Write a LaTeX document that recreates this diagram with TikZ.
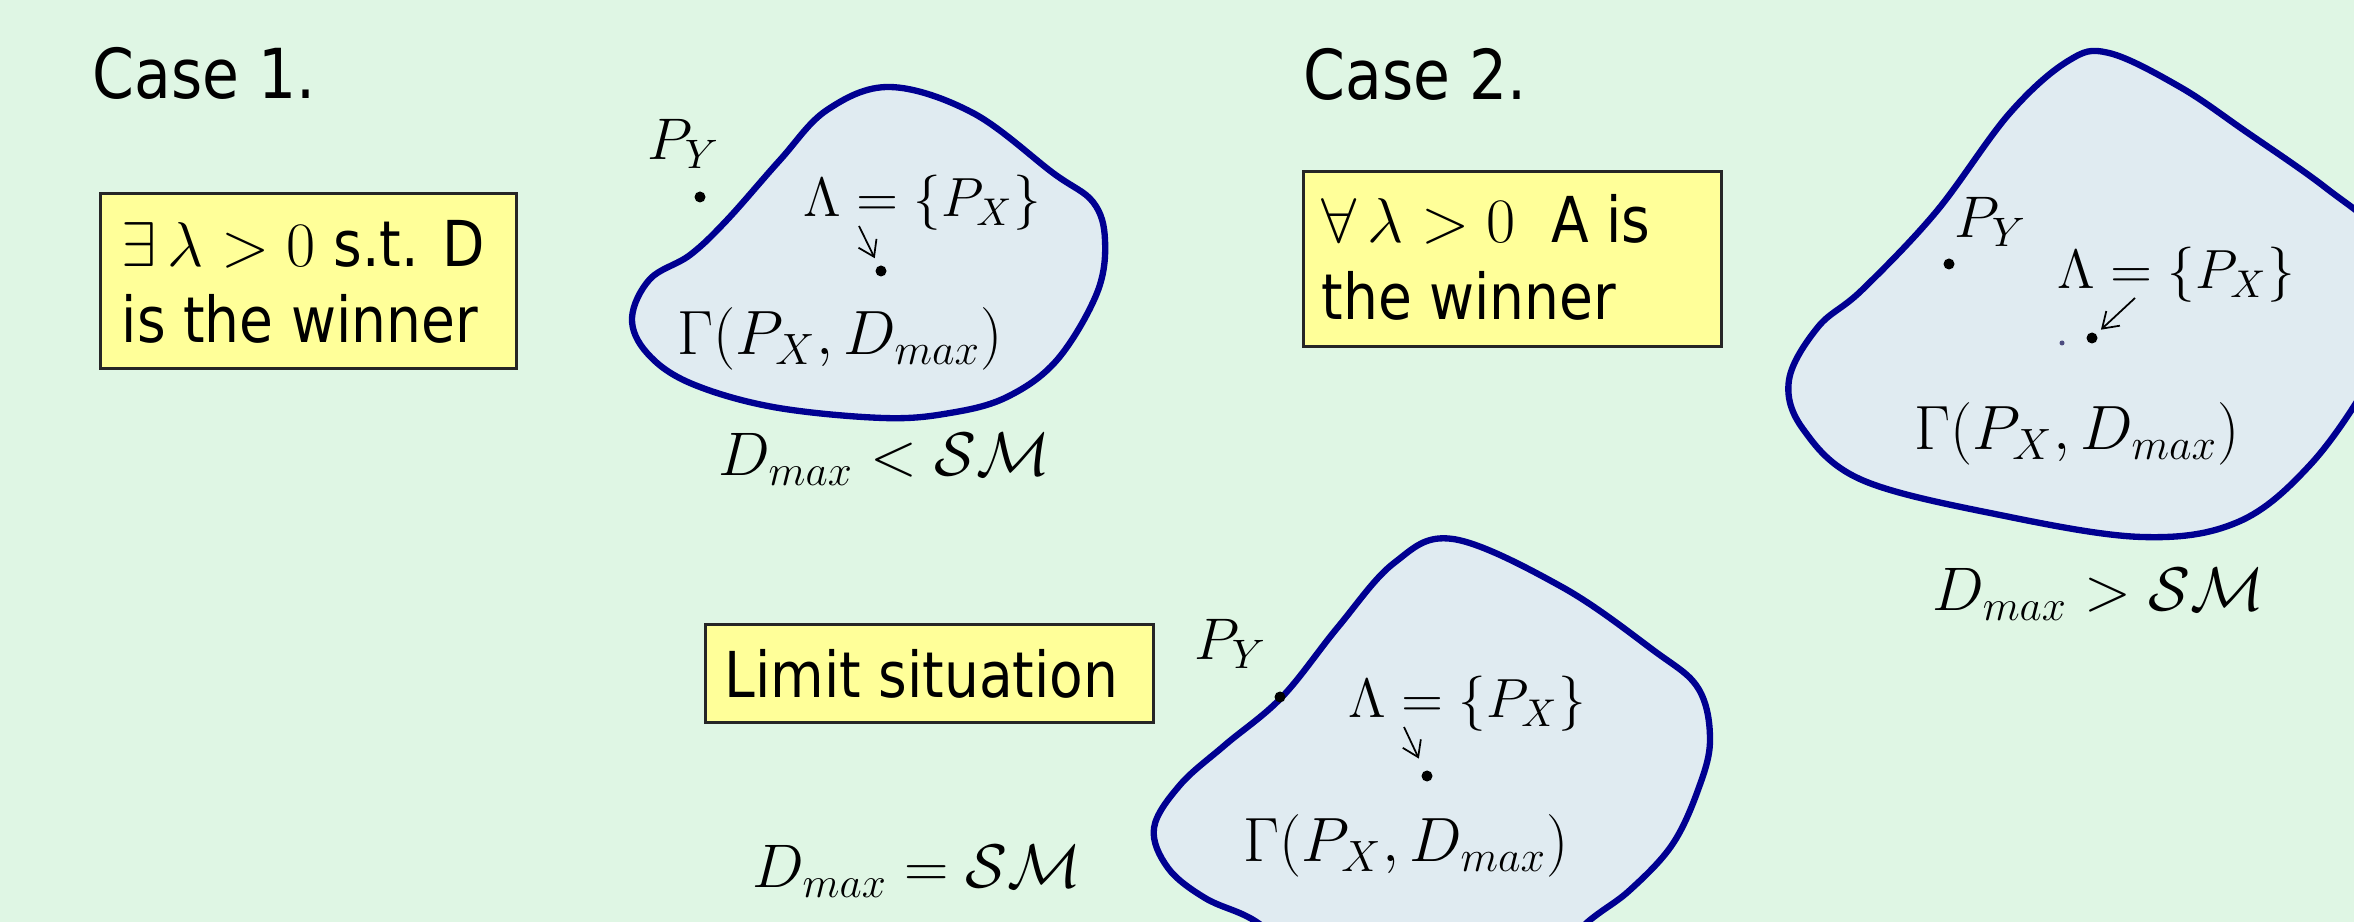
\RequirePackage{fix-cm}
\documentclass[tikz,border=0pt]{standalone}
\usepackage[no-math]{fontspec}
\setmainfont{DejaVu Sans}[FakeStretch=0.87]
\usetikzlibrary{arrows.meta}
\definecolor{bg}{RGB}{223,246,228}
\definecolor{blobfill}{RGB}{224,235,241}
\definecolor{blobline}{RGB}{0,0,145}
\definecolor{boxfill}{RGB}{255,255,153}
\begin{document}
\begin{tikzpicture}[x=0.01cm,y=-0.01cm,
  ttl/.style={anchor=base west, inner sep=0, font=\fontsize{19.6}{23}\selectfont},
  btxt/.style={anchor=base west, inner sep=0, font=\fontsize{18}{22}\selectfont},
  ybox/.style={draw=black!85, fill=boxfill, line width=0.8pt, anchor=north west, inner sep=0},
  mth/.style={anchor=base west, inner sep=0, font=\fontsize{16.7}{20}\selectfont},
  lmth/.style={anchor=base west, inner sep=0, font=\fontsize{15.7}{19}\selectfont},
  gmth/.style={anchor=base west, inner sep=0, font=\fontsize{17.8}{21}\selectfont},
  dmth/.style={anchor=base west, inner sep=0, font=\fontsize{17.5}{21}\selectfont},
  blob/.style={draw=blobline, fill=blobfill, line width=1.8pt},
  dot/.style={circle, fill=black, inner sep=0, minimum size=0.11cm},
  gdot/.style={circle, fill=black!50!blue!40!gray, inner sep=0, minimum size=0.05cm},
  arr/.style={-{Straight Barb[length=0.15cm,width=0.2cm]}, line width=0.5pt}]
\fill[bg] (0,0) rectangle (2354,922);
\useasboundingbox (0,0) rectangle (2354,922);
\begin{scope}
\clip (0,0) rectangle (2354,922);
% blob 1
\draw[blob] plot[smooth cycle, tension=0.6] coordinates {
 (890,87) (973,113) (1053,173) (1093,202) (1105,240) (1097,293) (1057,360) (1007,397)
 (950,413) (883,418) (773,407) (690,383) (647,353) (632,318) (650,279) (690,255)
 (727,220) (780,160) (827,110)};
% blob 2
\draw[blob] plot[smooth cycle, tension=0.6] coordinates {
 (2109,53) (2180,87) (2245,131) (2326,188) (2385,240) (2400,310) (2370,380)
 (2310,465) (2238,522) (2142,537) (2000,515) (1862,480) (1803,429) (1789,380)
 (1818,327) (1862,290) (1936,212) (2009,114) (2068,61)};
% blob 3
\draw[blob] plot[smooth cycle, tension=0.6] coordinates {
 (1453,539) (1562,587) (1653,650) (1698,688) (1710,740) (1698,790) (1672,845)
 (1630,890) (1590,920) (1530,970) (1400,985) (1300,950) (1250,918) (1205,898)
 (1168,868) (1154,828) (1180,785) (1225,745) (1282,697) (1338,627) (1394,563)};
\end{scope}
% titles
\node[ttl] (c1) at (92,99) {Case 1.};
\node[ttl] (c2) at (1303,100) {Case 2.};
% boxes
\node[ybox, minimum width=4.16cm, minimum height=1.75cm] (box1) at (99,192) {};
\node[btxt] (b1a) at (121,267) {$\exists\,\lambda>0$ s.t. D};
\node[btxt] (b1b) at (121,343) {is the winner};
\node[ybox, minimum width=4.18cm, minimum height=1.75cm] (box2) at (1302,170) {};
\node[btxt] (b2a) at (1321,243) {$\forall\,\lambda>0$\ \ A is};
\node[btxt] (b2b) at (1321,320) {the winner};
\node[ybox, minimum width=4.48cm, minimum height=0.98cm] (box3) at (704,623) {};
\node[btxt] (b3a) at (724,698) {Limit situation};
% blob 1 labels
\node[mth] (py1) at (647,160) {$P_Y$};
\node[dot] (pyd1) at (700,197) {};
\node[lmth] (lam1) at (803,217) {$\Lambda=\{P_X\}$};
\node[dot] (d1) at (881,271) {};
\coordinate (a1) at (859,226);
\draw[arr, shorten >=0.08cm] (a1) -- (d1);
\node[gmth] (g1) at (677,355) {$\Gamma(P_X,D_{max})$};
\node[dmth] (s1) at (718,476) {$D_{max}<\mathcal{SM}$};
% blob 2 labels
\node[mth] (py2) at (1954,238) {$P_Y$};
\node[dot] (pyd2) at (1949,264) {};
\node[lmth] (lam2) at (2057,289) {$\Lambda=\{P_X\}$};
\node[dot] (d2) at (2092,338) {};
\node[gdot] (gd2) at (2062,343) {};
\coordinate (a2) at (2135,298);
\draw[arr, shorten >=0.06cm] (a2) -- (d2);
\node[gmth] (g2) at (1914,450) {$\Gamma(P_X,D_{max})$};
\node[dmth] (s2) at (1932,611) {$D_{max}>\mathcal{SM}$};
% blob 3 labels
\node[mth] (py3) at (1194,660) {$P_Y$};
\node[dot] (pyd3) at (1280,697) {};
\node[lmth] (lam3) at (1348,718) {$\Lambda=\{P_X\}$};
\node[dot] (d3) at (1427,776) {};
\coordinate (a3) at (1404,727);
\draw[arr, shorten >=0.13cm] (a3) -- (d3);
\node[gmth] (g3) at (1243,862) {$\Gamma(P_X,D_{max})$};
\node[dmth] (s3) at (752,888) {$D_{max}=\mathcal{SM}$};
\end{tikzpicture}
\end{document}
